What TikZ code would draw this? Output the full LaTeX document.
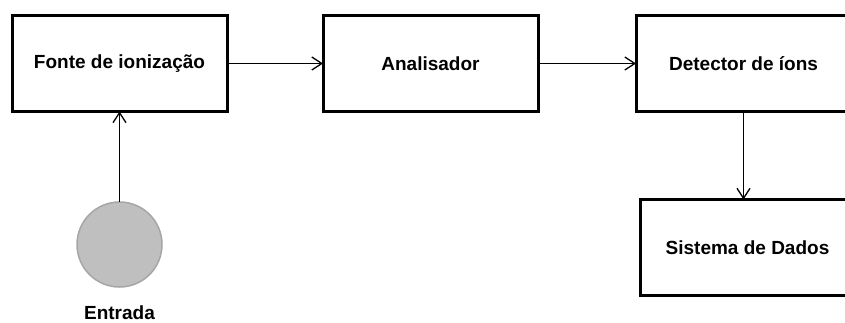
\documentclass[tikz,border=0pt]{standalone}
\usepackage{fontspec}
\setmainfont{Liberation Sans}
\usetikzlibrary{arrows.meta,positioning}
\tikzstyle{box}=[rectangle,draw,line width=3pt,outer sep=0pt,minimum width=215pt,minimum height=96pt,text centered,font=\fontsize{19}{22}\selectfont\bfseries]
\tikzstyle{source}=[circle,draw=gray!70,fill=gray!50,line width=1.5pt,outer sep=0pt,minimum size=85pt,inner sep=0pt]
\tikzstyle{caption}=[inner sep=0pt,font=\fontsize{19}{22}\selectfont\bfseries]
\tikzstyle{flow}=[-{Straight Barb[length=10pt,width=13pt]},line width=1.3pt]

\begin{document}
\begin{tikzpicture}[x=1pt,y=-1pt]
\clip (0,0) rectangle (845,323);
\useasboundingbox (0,0) rectangle (845,323);

\node (fonte) [box] at (119.5,63.5) {Fonte de ionização} ;
\node (anal) [box,right=96pt of fonte] {Analisador} ;
\node (det) [box,right=98pt of anal] {Detector de íons} ;
\node (dados) [box,below=88pt of det,xshift=4pt] {Sistema de Dados} ;

\draw [flow] (fonte) -- (anal) ;
\draw [flow] (anal) -- (det) ;
\draw [flow] (det.south) -- (det.south |- dados.north) ;

\node (entrada) [source,below=90.5pt of fonte] {} ;
\node (entlabel) [caption,below=19pt of entrada] {Entrada} ;

\draw [flow] (entrada) -- (fonte) ;

\end{tikzpicture}
\end{document}
